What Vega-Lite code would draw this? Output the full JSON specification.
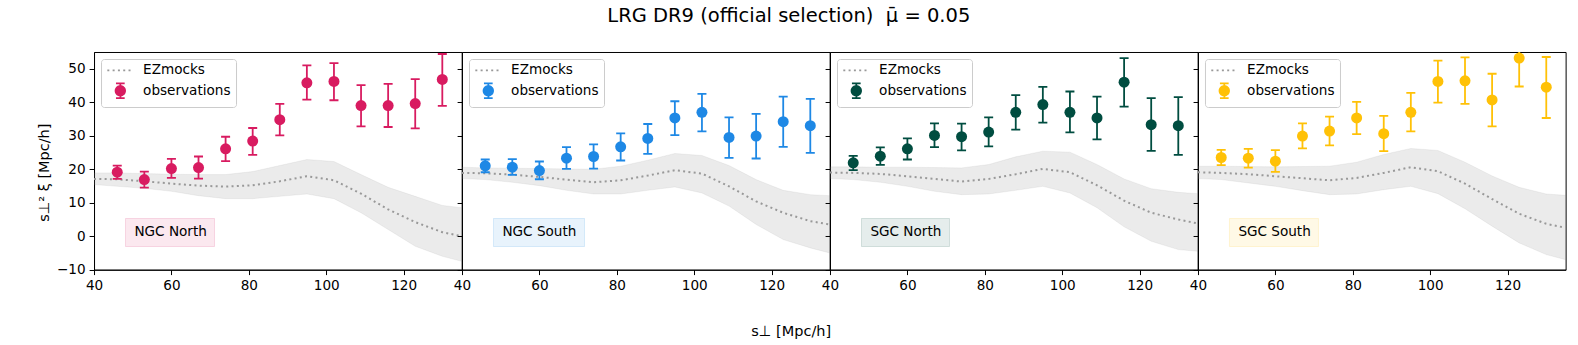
{
  "$schema": "https://vega.github.io/schema/vega-lite/v6.json",
  "background": "white",
  "padding": {"left": 35, "top": 6, "right": 0, "bottom": 0},
  "title": {"text": "LRG DR9 (official selection) \u00a0μ̄ = 0.05", "font": "DejaVu Sans", "fontSize": 19.5, "fontWeight": "normal", "color": "black", "anchor": "middle", "offset": 25, "dx": -12},
  "config": {
    "font": "DejaVu Sans",
    "view": {"stroke": "black", "strokeWidth": 1},
    "axis": {"labelFont": "DejaVu Sans", "labelFontSize": 13.6, "labelColor": "black", "titleFont": "DejaVu Sans", "titleFontSize": 14.5, "titleFontWeight": "normal", "titleColor": "black", "domainColor": "black", "domainWidth": 1, "tickColor": "black", "tickWidth": 1, "tickSize": 4.9, "labelPadding": 4, "grid": false, "labelFlush": false, "labelOverlap": false, "tickCount": 20},
    "legend": {"labelFont": "DejaVu Sans", "labelFontSize": 13.6, "labelColor": "black"}
  },
  "datasets": {
    "obs": [
      {"panel": "NGC North", "x": 46, "y": 19.1, "lo": 17.1, "hi": 21.1},
      {"panel": "NGC North", "x": 53, "y": 16.9, "lo": 14.5, "hi": 19.3},
      {"panel": "NGC North", "x": 60, "y": 20.2, "lo": 17.4, "hi": 23.1},
      {"panel": "NGC North", "x": 67, "y": 20.5, "lo": 17.2, "hi": 23.8},
      {"panel": "NGC North", "x": 74, "y": 26.1, "lo": 22.4, "hi": 29.7},
      {"panel": "NGC North", "x": 81, "y": 28.4, "lo": 24.3, "hi": 32.3},
      {"panel": "NGC North", "x": 88, "y": 34.8, "lo": 30.1, "hi": 39.5},
      {"panel": "NGC North", "x": 95, "y": 45.8, "lo": 40.8, "hi": 51.0},
      {"panel": "NGC North", "x": 102, "y": 46.2, "lo": 40.6, "hi": 51.7},
      {"panel": "NGC North", "x": 109, "y": 39.0, "lo": 32.8, "hi": 45.1},
      {"panel": "NGC North", "x": 116, "y": 39.0, "lo": 32.6, "hi": 45.5},
      {"panel": "NGC North", "x": 123, "y": 39.6, "lo": 32.2, "hi": 46.9},
      {"panel": "NGC North", "x": 130, "y": 46.8, "lo": 38.9, "hi": 54.4},
      {"panel": "NGC South", "x": 46, "y": 21.0, "lo": 19.1, "hi": 22.9},
      {"panel": "NGC South", "x": 53, "y": 20.6, "lo": 18.3, "hi": 23.0},
      {"panel": "NGC South", "x": 60, "y": 19.6, "lo": 17.0, "hi": 22.3},
      {"panel": "NGC South", "x": 67, "y": 23.3, "lo": 20.1, "hi": 26.6},
      {"panel": "NGC South", "x": 74, "y": 23.8, "lo": 20.2, "hi": 27.4},
      {"panel": "NGC South", "x": 81, "y": 26.7, "lo": 22.6, "hi": 30.7},
      {"panel": "NGC South", "x": 88, "y": 29.2, "lo": 24.6, "hi": 33.5},
      {"panel": "NGC South", "x": 95, "y": 35.3, "lo": 30.2, "hi": 40.3},
      {"panel": "NGC South", "x": 102, "y": 37.0, "lo": 31.3, "hi": 42.5},
      {"panel": "NGC South", "x": 109, "y": 29.5, "lo": 23.4, "hi": 35.5},
      {"panel": "NGC South", "x": 116, "y": 29.9, "lo": 23.2, "hi": 36.5},
      {"panel": "NGC South", "x": 123, "y": 34.2, "lo": 26.7, "hi": 41.7},
      {"panel": "NGC South", "x": 130, "y": 33.0, "lo": 24.9, "hi": 41.0},
      {"panel": "SGC North", "x": 46, "y": 21.9, "lo": 19.7, "hi": 24.0},
      {"panel": "SGC North", "x": 53, "y": 23.9, "lo": 21.3, "hi": 26.5},
      {"panel": "SGC North", "x": 60, "y": 26.1, "lo": 22.9, "hi": 29.2},
      {"panel": "SGC North", "x": 67, "y": 30.1, "lo": 26.6, "hi": 33.7},
      {"panel": "SGC North", "x": 74, "y": 29.7, "lo": 25.6, "hi": 33.6},
      {"panel": "SGC North", "x": 81, "y": 31.1, "lo": 26.8, "hi": 35.5},
      {"panel": "SGC North", "x": 88, "y": 37.0, "lo": 31.8, "hi": 42.1},
      {"panel": "SGC North", "x": 95, "y": 39.3, "lo": 33.9, "hi": 44.6},
      {"panel": "SGC North", "x": 102, "y": 37.0, "lo": 31.0, "hi": 43.2},
      {"panel": "SGC North", "x": 109, "y": 35.3, "lo": 28.9, "hi": 41.7},
      {"panel": "SGC North", "x": 116, "y": 46.0, "lo": 38.7, "hi": 53.2},
      {"panel": "SGC North", "x": 123, "y": 33.3, "lo": 25.5, "hi": 41.2},
      {"panel": "SGC North", "x": 130, "y": 33.0, "lo": 24.3, "hi": 41.5},
      {"panel": "SGC South", "x": 46, "y": 23.5, "lo": 21.2, "hi": 25.8},
      {"panel": "SGC South", "x": 53, "y": 23.3, "lo": 20.5, "hi": 26.1},
      {"panel": "SGC South", "x": 60, "y": 22.4, "lo": 19.2, "hi": 25.7},
      {"panel": "SGC South", "x": 67, "y": 29.9, "lo": 26.2, "hi": 33.7},
      {"panel": "SGC South", "x": 74, "y": 31.4, "lo": 27.1, "hi": 35.7},
      {"panel": "SGC South", "x": 81, "y": 35.3, "lo": 30.5, "hi": 40.1},
      {"panel": "SGC South", "x": 88, "y": 30.6, "lo": 25.4, "hi": 35.9},
      {"panel": "SGC South", "x": 95, "y": 37.0, "lo": 31.3, "hi": 42.8},
      {"panel": "SGC South", "x": 102, "y": 46.2, "lo": 39.9, "hi": 52.4},
      {"panel": "SGC South", "x": 109, "y": 46.4, "lo": 39.5, "hi": 53.4},
      {"panel": "SGC South", "x": 116, "y": 40.7, "lo": 32.8, "hi": 48.5},
      {"panel": "SGC South", "x": 123, "y": 53.2, "lo": 44.7, "hi": 61.7},
      {"panel": "SGC South", "x": 130, "y": 44.5, "lo": 35.3, "hi": 53.5}
    ],
    "mock": [
      {"panel": "NGC North", "x": 40, "mean": 17.1, "lo": 15.4, "hi": 18.9},
      {"panel": "NGC North", "x": 46, "mean": 17.0, "lo": 14.9, "hi": 18.9},
      {"panel": "NGC North", "x": 53, "mean": 16.4, "lo": 14.3, "hi": 18.7},
      {"panel": "NGC North", "x": 60, "mean": 15.7, "lo": 13.4, "hi": 18.5},
      {"panel": "NGC North", "x": 67, "mean": 15.1, "lo": 12.1, "hi": 18.4},
      {"panel": "NGC North", "x": 74, "mean": 14.8, "lo": 11.2, "hi": 18.4},
      {"panel": "NGC North", "x": 81, "mean": 15.2, "lo": 11.2, "hi": 19.3},
      {"panel": "NGC North", "x": 88, "mean": 16.4, "lo": 11.9, "hi": 21.1},
      {"panel": "NGC North", "x": 95, "mean": 17.9, "lo": 12.6, "hi": 22.9},
      {"panel": "NGC North", "x": 102, "mean": 16.7, "lo": 11.2, "hi": 22.3},
      {"panel": "NGC North", "x": 109, "mean": 12.7, "lo": 7.0, "hi": 18.4},
      {"panel": "NGC North", "x": 116, "mean": 8.0, "lo": 2.0, "hi": 14.6},
      {"panel": "NGC North", "x": 123, "mean": 4.2, "lo": -3.0, "hi": 11.9},
      {"panel": "NGC North", "x": 130, "mean": 1.2, "lo": -6.0, "hi": 9.2},
      {"panel": "NGC North", "x": 135, "mean": 0.0, "lo": -7.5, "hi": 8.5},
      {"panel": "NGC South", "x": 40, "mean": 18.9, "lo": 17.2, "hi": 20.6},
      {"panel": "NGC South", "x": 46, "mean": 18.8, "lo": 16.9, "hi": 20.4},
      {"panel": "NGC South", "x": 53, "mean": 18.4, "lo": 16.1, "hi": 20.3},
      {"panel": "NGC South", "x": 60, "mean": 17.7, "lo": 15.1, "hi": 20.2},
      {"panel": "NGC South", "x": 67, "mean": 16.9, "lo": 13.7, "hi": 20.1},
      {"panel": "NGC South", "x": 74, "mean": 16.1, "lo": 12.6, "hi": 20.0},
      {"panel": "NGC South", "x": 81, "mean": 16.7, "lo": 12.6, "hi": 20.9},
      {"panel": "NGC South", "x": 88, "mean": 18.1, "lo": 13.7, "hi": 22.7},
      {"panel": "NGC South", "x": 95, "mean": 19.7, "lo": 14.7, "hi": 24.7},
      {"panel": "NGC South", "x": 102, "mean": 18.7, "lo": 12.9, "hi": 24.1},
      {"panel": "NGC South", "x": 109, "mean": 14.9, "lo": 9.0, "hi": 21.1},
      {"panel": "NGC South", "x": 116, "mean": 10.4, "lo": 3.5, "hi": 16.9},
      {"panel": "NGC South", "x": 123, "mean": 7.0, "lo": -1.0, "hi": 13.7},
      {"panel": "NGC South", "x": 130, "mean": 4.5, "lo": -3.5, "hi": 12.4},
      {"panel": "NGC South", "x": 135, "mean": 3.5, "lo": -5.0, "hi": 12.1},
      {"panel": "SGC North", "x": 40, "mean": 19.0, "lo": 17.2, "hi": 20.7},
      {"panel": "SGC North", "x": 46, "mean": 18.9, "lo": 16.9, "hi": 20.7},
      {"panel": "SGC North", "x": 53, "mean": 18.6, "lo": 16.1, "hi": 20.6},
      {"panel": "SGC North", "x": 60, "mean": 17.9, "lo": 14.9, "hi": 20.6},
      {"panel": "SGC North", "x": 67, "mean": 17.1, "lo": 13.4, "hi": 20.5},
      {"panel": "SGC North", "x": 74, "mean": 16.3, "lo": 12.4, "hi": 20.4},
      {"panel": "SGC North", "x": 81, "mean": 17.1, "lo": 12.6, "hi": 21.4},
      {"panel": "SGC North", "x": 88, "mean": 18.5, "lo": 13.7, "hi": 23.7},
      {"panel": "SGC North", "x": 95, "mean": 20.1, "lo": 14.9, "hi": 25.4},
      {"panel": "SGC North", "x": 102, "mean": 19.1, "lo": 12.9, "hi": 25.1},
      {"panel": "SGC North", "x": 109, "mean": 15.2, "lo": 8.5, "hi": 21.4},
      {"panel": "SGC North", "x": 116, "mean": 10.6, "lo": 2.8, "hi": 17.1},
      {"panel": "SGC North", "x": 123, "mean": 7.0, "lo": -1.5, "hi": 14.2},
      {"panel": "SGC North", "x": 130, "mean": 5.0, "lo": -4.0, "hi": 13.1},
      {"panel": "SGC North", "x": 135, "mean": 3.8, "lo": -4.5, "hi": 12.7},
      {"panel": "SGC South", "x": 40, "mean": 19.1, "lo": 17.2, "hi": 20.9},
      {"panel": "SGC South", "x": 46, "mean": 18.9, "lo": 16.9, "hi": 20.9},
      {"panel": "SGC South", "x": 53, "mean": 18.5, "lo": 15.9, "hi": 20.8},
      {"panel": "SGC South", "x": 60, "mean": 17.9, "lo": 14.9, "hi": 20.7},
      {"panel": "SGC South", "x": 67, "mean": 17.3, "lo": 13.6, "hi": 20.8},
      {"panel": "SGC South", "x": 74, "mean": 16.7, "lo": 12.4, "hi": 20.9},
      {"panel": "SGC South", "x": 81, "mean": 17.4, "lo": 12.6, "hi": 22.1},
      {"panel": "SGC South", "x": 88, "mean": 18.9, "lo": 13.9, "hi": 24.4},
      {"panel": "SGC South", "x": 95, "mean": 20.6, "lo": 14.9, "hi": 26.2},
      {"panel": "SGC South", "x": 102, "mean": 19.4, "lo": 12.7, "hi": 25.6},
      {"panel": "SGC South", "x": 109, "mean": 15.7, "lo": 8.2, "hi": 22.1},
      {"panel": "SGC South", "x": 116, "mean": 11.1, "lo": 3.0, "hi": 18.0},
      {"panel": "SGC South", "x": 123, "mean": 6.7, "lo": -2.0, "hi": 14.6},
      {"panel": "SGC South", "x": 130, "mean": 3.7, "lo": -5.5, "hi": 12.6},
      {"panel": "SGC South", "x": 135, "mean": 2.5, "lo": -7.0, "hi": 12.2}
    ]
  },
  "spacing": 0,
  "bounds": "flush",
  "resolve": {"scale": {"color": "independent", "shape": "independent", "x": "independent", "y": "independent"}, "legend": {"color": "independent", "shape": "independent"}},
  "hconcat": [
    {
      "width": 367.65, "height": 217.7,
      "layer": [
        {"data": {"name": "mock"}, "transform": [{"filter": "datum.panel === 'NGC North'"}],
         "mark": {"type": "area", "color": "#808080", "fillOpacity": 0.16, "stroke": "#808080", "strokeOpacity": 0.1, "strokeWidth": 1, "clip": true},
         "encoding": {
           "x": {"field": "x", "type": "quantitative", "scale": {"domain": [40, 135], "nice": false, "zero": false}, "axis": {"values": [40, 60, 80, 100, 120], "tickCount": 20, "title": null, "labelOverlap": false}},
           "y": {"field": "lo", "type": "quantitative", "scale": {"domain": [-10, 55], "nice": false, "zero": false}, "axis": {"values": [-10, 0, 10, 20, 30, 40, 50], "tickCount": 20, "labelOverlap": false, "title": "s⊥² ξ [Mpc/h]", "titleX": -50, "titleY": 120.2, "titleBaseline": "middle", "titleAlign": "center", "titleAngle": -90}},
           "y2": {"field": "hi"}}},
        {"data": {"name": "mock"}, "transform": [{"filter": "datum.panel === 'NGC North'"}],
         "mark": {"type": "line", "strokeDash": [2, 3.3], "strokeWidth": 2, "clip": true},
         "encoding": {
           "x": {"field": "x", "type": "quantitative"},
           "y": {"field": "mean", "type": "quantitative"},
           "color": {"datum": "EZmocks", "scale": {"domain": ["EZmocks", "observations"], "range": ["#999999", "#d81b60"]},
             "legend": {"orient": "top-left", "offset": 6.6, "title": null, "fillColor": "rgba(255,255,255,0.8)", "strokeColor": "#cccccc", "cornerRadius": 3, "padding": 4.5, "labelOffset": 16, "symbolSize": 100, "symbolOffset": 8, "symbolStrokeWidth": 2, "rowPadding": 1.5,
               "encoding": {"symbols": {
                 "shape": {"value": {"expr": "datum.value === 'EZmocks' ? 'M-2.6,0H2.6' : 'M0,-1.47V1.47M-0.87,-1.47H0.87M-0.87,1.47H0.87M0.95,0A0.95,0.95,0,1,1,-0.95,0A0.95,0.95,0,1,1,0.95,0Z'"}},
                 "fill": {"value": {"expr": "datum.value === 'EZmocks' ? 'transparent' : '#d81b60'"}},
                 "stroke": {"value": {"expr": "datum.value === 'EZmocks' ? '#999999' : '#d81b60'"}},
                 "strokeDash": {"value": {"expr": "datum.value === 'EZmocks' ? [2, 3.3] : [1, 0]"}},
                 "strokeWidth": {"value": 1.8},
                 "opacity": {"value": 1}}}}}}},
        {"data": {"name": "obs"}, "transform": [{"filter": "datum.panel === 'NGC North'"}],
         "mark": {"type": "rule", "color": "#d81b60", "strokeWidth": 1.8, "clip": true},
         "encoding": {"x": {"field": "x", "type": "quantitative"}, "y": {"field": "lo", "type": "quantitative"}, "y2": {"field": "hi"}}},
        {"data": {"name": "obs"}, "transform": [{"filter": "datum.panel === 'NGC North'"}],
         "mark": {"type": "tick", "orient": "horizontal", "color": "#d81b60", "size": 9, "thickness": 1.8, "opacity": 1, "clip": true},
         "encoding": {"x": {"field": "x", "type": "quantitative"}, "y": {"field": "lo", "type": "quantitative"}}},
        {"data": {"name": "obs"}, "transform": [{"filter": "datum.panel === 'NGC North'"}],
         "mark": {"type": "tick", "orient": "horizontal", "color": "#d81b60", "size": 9, "thickness": 1.8, "opacity": 1, "clip": true},
         "encoding": {"x": {"field": "x", "type": "quantitative"}, "y": {"field": "hi", "type": "quantitative"}}},
        {"data": {"name": "obs"}, "transform": [{"filter": "datum.panel === 'NGC North'"}],
         "mark": {"type": "point", "filled": true, "size": 121, "opacity": 1, "clip": true},
         "encoding": {"x": {"field": "x", "type": "quantitative"}, "y": {"field": "y", "type": "quantitative"},
           "color": {"datum": "observations"},
           "shape": {"field": "panel", "type": "nominal", "scale": {"range": ["circle"]},
             "legend": {"orient": "none", "legendX": 31, "legendY": 166, "title": null, "fillColor": "rgba(216,27,96,0.1)", "strokeColor": "rgba(216,27,96,0.15)", "padding": 7, "symbolSize": 0, "symbolOpacity": 0, "symbolStrokeWidth": 0, "labelOffset": -11.2}}}}
      ]
    },
    {
      "width": 367.65, "height": 217.7,
      "layer": [
        {"data": {"name": "mock"}, "transform": [{"filter": "datum.panel === 'NGC South'"}],
         "mark": {"type": "area", "color": "#808080", "fillOpacity": 0.16, "stroke": "#808080", "strokeOpacity": 0.1, "strokeWidth": 1, "clip": true},
         "encoding": {
           "x": {"field": "x", "type": "quantitative", "scale": {"domain": [40, 135], "nice": false, "zero": false}, "axis": {"values": [40, 60, 80, 100, 120], "tickCount": 20, "labelOverlap": false, "title": "s⊥ [Mpc/h]", "titleX": 328.7, "titleY": 62, "titleBaseline": "middle", "titleAlign": "center"}},
           "y": {"field": "lo", "type": "quantitative", "scale": {"domain": [-10, 55], "nice": false, "zero": false}, "axis": {"values": [-10, 0, 10, 20, 30, 40, 50], "tickCount": 20, "title": null, "labels": false}},
           "y2": {"field": "hi"}}},
        {"data": {"name": "mock"}, "transform": [{"filter": "datum.panel === 'NGC South'"}],
         "mark": {"type": "line", "strokeDash": [2, 3.3], "strokeWidth": 2, "clip": true},
         "encoding": {
           "x": {"field": "x", "type": "quantitative"},
           "y": {"field": "mean", "type": "quantitative"},
           "color": {"datum": "EZmocks", "scale": {"domain": ["EZmocks", "observations"], "range": ["#999999", "#1e88e5"]},
             "legend": {"orient": "top-left", "offset": 6.6, "title": null, "fillColor": "rgba(255,255,255,0.8)", "strokeColor": "#cccccc", "cornerRadius": 3, "padding": 4.5, "labelOffset": 16, "symbolSize": 100, "symbolOffset": 8, "symbolStrokeWidth": 2, "rowPadding": 1.5,
               "encoding": {"symbols": {
                 "shape": {"value": {"expr": "datum.value === 'EZmocks' ? 'M-2.6,0H2.6' : 'M0,-1.47V1.47M-0.87,-1.47H0.87M-0.87,1.47H0.87M0.95,0A0.95,0.95,0,1,1,-0.95,0A0.95,0.95,0,1,1,0.95,0Z'"}},
                 "fill": {"value": {"expr": "datum.value === 'EZmocks' ? 'transparent' : '#1e88e5'"}},
                 "stroke": {"value": {"expr": "datum.value === 'EZmocks' ? '#999999' : '#1e88e5'"}},
                 "strokeDash": {"value": {"expr": "datum.value === 'EZmocks' ? [2, 3.3] : [1, 0]"}},
                 "strokeWidth": {"value": 1.8},
                 "opacity": {"value": 1}}}}}}},
        {"data": {"name": "obs"}, "transform": [{"filter": "datum.panel === 'NGC South'"}],
         "mark": {"type": "rule", "color": "#1e88e5", "strokeWidth": 1.8, "clip": true},
         "encoding": {"x": {"field": "x", "type": "quantitative"}, "y": {"field": "lo", "type": "quantitative"}, "y2": {"field": "hi"}}},
        {"data": {"name": "obs"}, "transform": [{"filter": "datum.panel === 'NGC South'"}],
         "mark": {"type": "tick", "orient": "horizontal", "color": "#1e88e5", "size": 9, "thickness": 1.8, "opacity": 1, "clip": true},
         "encoding": {"x": {"field": "x", "type": "quantitative"}, "y": {"field": "lo", "type": "quantitative"}}},
        {"data": {"name": "obs"}, "transform": [{"filter": "datum.panel === 'NGC South'"}],
         "mark": {"type": "tick", "orient": "horizontal", "color": "#1e88e5", "size": 9, "thickness": 1.8, "opacity": 1, "clip": true},
         "encoding": {"x": {"field": "x", "type": "quantitative"}, "y": {"field": "hi", "type": "quantitative"}}},
        {"data": {"name": "obs"}, "transform": [{"filter": "datum.panel === 'NGC South'"}],
         "mark": {"type": "point", "filled": true, "size": 121, "opacity": 1, "clip": true},
         "encoding": {"x": {"field": "x", "type": "quantitative"}, "y": {"field": "y", "type": "quantitative"},
           "color": {"datum": "observations"},
           "shape": {"field": "panel", "type": "nominal", "scale": {"range": ["circle"]},
             "legend": {"orient": "none", "legendX": 31, "legendY": 166, "title": null, "fillColor": "rgba(30,136,229,0.1)", "strokeColor": "rgba(30,136,229,0.15)", "padding": 7, "symbolSize": 0, "symbolOpacity": 0, "symbolStrokeWidth": 0, "labelOffset": -11.2}}}}
      ]
    },
    {
      "width": 367.65, "height": 217.7,
      "layer": [
        {"data": {"name": "mock"}, "transform": [{"filter": "datum.panel === 'SGC North'"}],
         "mark": {"type": "area", "color": "#808080", "fillOpacity": 0.16, "stroke": "#808080", "strokeOpacity": 0.1, "strokeWidth": 1, "clip": true},
         "encoding": {
           "x": {"field": "x", "type": "quantitative", "scale": {"domain": [40, 135], "nice": false, "zero": false}, "axis": {"values": [40, 60, 80, 100, 120], "tickCount": 20, "labelOverlap": false, "title": null}},
           "y": {"field": "lo", "type": "quantitative", "scale": {"domain": [-10, 55], "nice": false, "zero": false}, "axis": {"values": [-10, 0, 10, 20, 30, 40, 50], "tickCount": 20, "title": null, "labels": false}},
           "y2": {"field": "hi"}}},
        {"data": {"name": "mock"}, "transform": [{"filter": "datum.panel === 'SGC North'"}],
         "mark": {"type": "line", "strokeDash": [2, 3.3], "strokeWidth": 2, "clip": true},
         "encoding": {
           "x": {"field": "x", "type": "quantitative"},
           "y": {"field": "mean", "type": "quantitative"},
           "color": {"datum": "EZmocks", "scale": {"domain": ["EZmocks", "observations"], "range": ["#999999", "#004d40"]},
             "legend": {"orient": "top-left", "offset": 6.6, "title": null, "fillColor": "rgba(255,255,255,0.8)", "strokeColor": "#cccccc", "cornerRadius": 3, "padding": 4.5, "labelOffset": 16, "symbolSize": 100, "symbolOffset": 8, "symbolStrokeWidth": 2, "rowPadding": 1.5,
               "encoding": {"symbols": {
                 "shape": {"value": {"expr": "datum.value === 'EZmocks' ? 'M-2.6,0H2.6' : 'M0,-1.47V1.47M-0.87,-1.47H0.87M-0.87,1.47H0.87M0.95,0A0.95,0.95,0,1,1,-0.95,0A0.95,0.95,0,1,1,0.95,0Z'"}},
                 "fill": {"value": {"expr": "datum.value === 'EZmocks' ? 'transparent' : '#004d40'"}},
                 "stroke": {"value": {"expr": "datum.value === 'EZmocks' ? '#999999' : '#004d40'"}},
                 "strokeDash": {"value": {"expr": "datum.value === 'EZmocks' ? [2, 3.3] : [1, 0]"}},
                 "strokeWidth": {"value": 1.8},
                 "opacity": {"value": 1}}}}}}},
        {"data": {"name": "obs"}, "transform": [{"filter": "datum.panel === 'SGC North'"}],
         "mark": {"type": "rule", "color": "#004d40", "strokeWidth": 1.8, "clip": true},
         "encoding": {"x": {"field": "x", "type": "quantitative"}, "y": {"field": "lo", "type": "quantitative"}, "y2": {"field": "hi"}}},
        {"data": {"name": "obs"}, "transform": [{"filter": "datum.panel === 'SGC North'"}],
         "mark": {"type": "tick", "orient": "horizontal", "color": "#004d40", "size": 9, "thickness": 1.8, "opacity": 1, "clip": true},
         "encoding": {"x": {"field": "x", "type": "quantitative"}, "y": {"field": "lo", "type": "quantitative"}}},
        {"data": {"name": "obs"}, "transform": [{"filter": "datum.panel === 'SGC North'"}],
         "mark": {"type": "tick", "orient": "horizontal", "color": "#004d40", "size": 9, "thickness": 1.8, "opacity": 1, "clip": true},
         "encoding": {"x": {"field": "x", "type": "quantitative"}, "y": {"field": "hi", "type": "quantitative"}}},
        {"data": {"name": "obs"}, "transform": [{"filter": "datum.panel === 'SGC North'"}],
         "mark": {"type": "point", "filled": true, "size": 121, "opacity": 1, "clip": true},
         "encoding": {"x": {"field": "x", "type": "quantitative"}, "y": {"field": "y", "type": "quantitative"},
           "color": {"datum": "observations"},
           "shape": {"field": "panel", "type": "nominal", "scale": {"range": ["circle"]},
             "legend": {"orient": "none", "legendX": 31, "legendY": 166, "title": null, "fillColor": "rgba(0,77,64,0.1)", "strokeColor": "rgba(0,77,64,0.15)", "padding": 7, "symbolSize": 0, "symbolOpacity": 0, "symbolStrokeWidth": 0, "labelOffset": -11.2}}}}
      ]
    },
    {
      "width": 367.65, "height": 217.7,
      "layer": [
        {"data": {"name": "mock"}, "transform": [{"filter": "datum.panel === 'SGC South'"}],
         "mark": {"type": "area", "color": "#808080", "fillOpacity": 0.16, "stroke": "#808080", "strokeOpacity": 0.1, "strokeWidth": 1, "clip": true},
         "encoding": {
           "x": {"field": "x", "type": "quantitative", "scale": {"domain": [40, 135], "nice": false, "zero": false}, "axis": {"values": [40, 60, 80, 100, 120], "tickCount": 20, "labelOverlap": false, "title": null}},
           "y": {"field": "lo", "type": "quantitative", "scale": {"domain": [-10, 55], "nice": false, "zero": false}, "axis": {"values": [-10, 0, 10, 20, 30, 40, 50], "tickCount": 20, "title": null, "labels": false}},
           "y2": {"field": "hi"}}},
        {"data": {"name": "mock"}, "transform": [{"filter": "datum.panel === 'SGC South'"}],
         "mark": {"type": "line", "strokeDash": [2, 3.3], "strokeWidth": 2, "clip": true},
         "encoding": {
           "x": {"field": "x", "type": "quantitative"},
           "y": {"field": "mean", "type": "quantitative"},
           "color": {"datum": "EZmocks", "scale": {"domain": ["EZmocks", "observations"], "range": ["#999999", "#ffc107"]},
             "legend": {"orient": "top-left", "offset": 6.6, "title": null, "fillColor": "rgba(255,255,255,0.8)", "strokeColor": "#cccccc", "cornerRadius": 3, "padding": 4.5, "labelOffset": 16, "symbolSize": 100, "symbolOffset": 8, "symbolStrokeWidth": 2, "rowPadding": 1.5,
               "encoding": {"symbols": {
                 "shape": {"value": {"expr": "datum.value === 'EZmocks' ? 'M-2.6,0H2.6' : 'M0,-1.47V1.47M-0.87,-1.47H0.87M-0.87,1.47H0.87M0.95,0A0.95,0.95,0,1,1,-0.95,0A0.95,0.95,0,1,1,0.95,0Z'"}},
                 "fill": {"value": {"expr": "datum.value === 'EZmocks' ? 'transparent' : '#ffc107'"}},
                 "stroke": {"value": {"expr": "datum.value === 'EZmocks' ? '#999999' : '#ffc107'"}},
                 "strokeDash": {"value": {"expr": "datum.value === 'EZmocks' ? [2, 3.3] : [1, 0]"}},
                 "strokeWidth": {"value": 1.8},
                 "opacity": {"value": 1}}}}}}},
        {"data": {"name": "obs"}, "transform": [{"filter": "datum.panel === 'SGC South'"}],
         "mark": {"type": "rule", "color": "#ffc107", "strokeWidth": 1.8, "clip": true},
         "encoding": {"x": {"field": "x", "type": "quantitative"}, "y": {"field": "lo", "type": "quantitative"}, "y2": {"field": "hi"}}},
        {"data": {"name": "obs"}, "transform": [{"filter": "datum.panel === 'SGC South'"}],
         "mark": {"type": "tick", "orient": "horizontal", "color": "#ffc107", "size": 9, "thickness": 1.8, "opacity": 1, "clip": true},
         "encoding": {"x": {"field": "x", "type": "quantitative"}, "y": {"field": "lo", "type": "quantitative"}}},
        {"data": {"name": "obs"}, "transform": [{"filter": "datum.panel === 'SGC South'"}],
         "mark": {"type": "tick", "orient": "horizontal", "color": "#ffc107", "size": 9, "thickness": 1.8, "opacity": 1, "clip": true},
         "encoding": {"x": {"field": "x", "type": "quantitative"}, "y": {"field": "hi", "type": "quantitative"}}},
        {"data": {"name": "obs"}, "transform": [{"filter": "datum.panel === 'SGC South'"}],
         "mark": {"type": "point", "filled": true, "size": 121, "opacity": 1, "clip": true},
         "encoding": {"x": {"field": "x", "type": "quantitative"}, "y": {"field": "y", "type": "quantitative"},
           "color": {"datum": "observations"},
           "shape": {"field": "panel", "type": "nominal", "scale": {"range": ["circle"]},
             "legend": {"orient": "none", "legendX": 31, "legendY": 166, "title": null, "fillColor": "rgba(255,193,7,0.1)", "strokeColor": "rgba(255,193,7,0.15)", "padding": 7, "symbolSize": 0, "symbolOpacity": 0, "symbolStrokeWidth": 0, "labelOffset": -11.2}}}}
      ]
    }
  ]
}
